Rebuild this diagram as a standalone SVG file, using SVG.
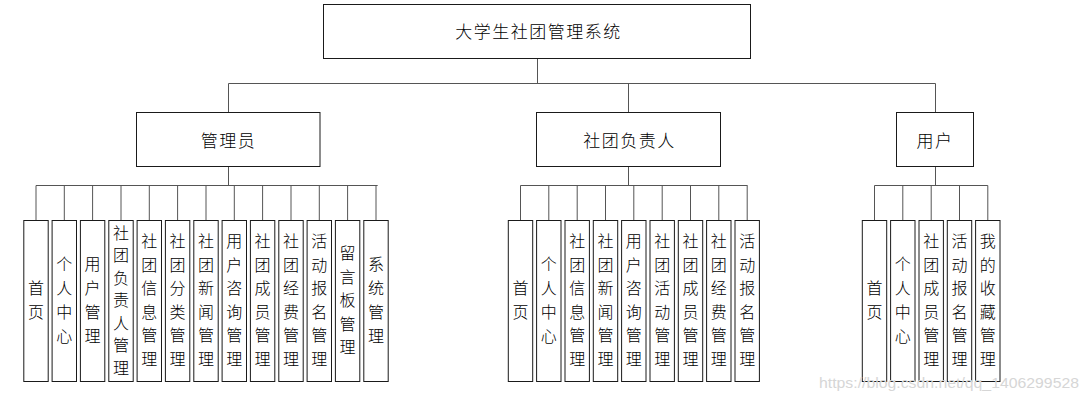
<svg xmlns="http://www.w3.org/2000/svg" width="1089" height="401" viewBox="0 0 1089 401">
<style>
.box{fill:#fff;stroke:#1a1a1a;stroke-width:1}
.ln{fill:none;stroke:#555;stroke-width:1}
.t{font-family:"Noto Sans CJK SC","Noto Sans",sans-serif;font-weight:300;fill:#000}
.h{font-size:17px;letter-spacing:1.5px;text-anchor:middle;dominant-baseline:central}
.v{font-size:16px;text-anchor:middle;dominant-baseline:central}
.wm{font-family:"Liberation Sans",Arial,sans-serif;font-size:15px;fill:#d6d6d6}
</style>
<rect width="1089" height="401" fill="#fff"/>
<g id="connectors">
<path class="ln" d="M537.5 58.5V83.5M228.5 83.5H935.5M228.5 83.5V112.5M628.5 83.5V112.5M935.5 83.5V112.5"/>
<path class="ln" d="M228.5 166.5V185.5M36 185.5H377.7M36 185.5V220.5M64.3 185.5V220.5M92.6 185.5V220.5M121 185.5V220.5M149.3 185.5V220.5M177.6 185.5V220.5M206 185.5V220.5M234.3 185.5V220.5M262.6 185.5V220.5M291 185.5V220.5M319.3 185.5V220.5M347.6 185.5V220.5M376 185.5V220.5"/>
<path class="ln" d="M628.5 166.5V185.5M520.5 185.5H747.5M520.5 185.5V220.5M548.8 185.5V220.5M577.2 185.5V220.5M605.5 185.5V220.5M633.8 185.5V220.5M662.2 185.5V220.5M690.5 185.5V220.5M718.8 185.5V220.5M747.2 185.5V220.5"/>
<path class="ln" d="M935.5 166.5V185.5M874.5 185.5H987.8M874.5 185.5V220.5M902.8 185.5V220.5M931.2 185.5V220.5M959.5 185.5V220.5M987.8 185.5V220.5"/>
</g>
<g id="root"><rect class="box" x="323.5" y="4.5" width="427" height="54"/><text class="t h" x="538.5" y="30">大学生社团管理系统</text></g>
<g id="admin"><rect class="box" x="136.5" y="112.5" width="183.5" height="54"/><text class="t h" x="228.5" y="139.5">管理员</text></g>
<g id="leader"><rect class="box" x="536.5" y="112.5" width="184" height="54"/><text class="t h" x="629.5" y="139.5">社团负责人</text></g>
<g id="user"><rect class="box" x="896.5" y="112.5" width="77" height="54"/><text class="t h" x="935" y="139.5">用户</text></g>

<g id="a1"><rect class="box" x="23.8" y="220.5" width="24.4" height="161"/><text class="t v"><tspan x="36" y="287">首</tspan><tspan x="36" y="311">页</tspan></text></g>
<g id="a2"><rect class="box" x="52.1" y="220.5" width="24.4" height="161"/><text class="t v"><tspan x="64.3" y="263">个</tspan><tspan x="64.3" y="287">人</tspan><tspan x="64.3" y="311">中</tspan><tspan x="64.3" y="335">心</tspan></text></g>
<g id="a3"><rect class="box" x="80.4" y="220.5" width="24.4" height="161"/><text class="t v"><tspan x="92.6" y="263">用</tspan><tspan x="92.6" y="287">户</tspan><tspan x="92.6" y="311">管</tspan><tspan x="92.6" y="335">理</tspan></text></g>
<g id="a4"><rect class="box" x="108.8" y="220.5" width="24.4" height="161"/><text class="t v"><tspan x="121" y="231.5">社</tspan><tspan x="121" y="254">团</tspan><tspan x="121" y="276.5">负</tspan><tspan x="121" y="299">责</tspan><tspan x="121" y="321.5">人</tspan><tspan x="121" y="344">管</tspan><tspan x="121" y="366.5">理</tspan></text></g>
<g id="a5"><rect class="box" x="137.1" y="220.5" width="24.4" height="161"/><text class="t v"><tspan x="149.3" y="240.25">社</tspan><tspan x="149.3" y="263.75">团</tspan><tspan x="149.3" y="287.25">信</tspan><tspan x="149.3" y="310.75">息</tspan><tspan x="149.3" y="334.25">管</tspan><tspan x="149.3" y="357.75">理</tspan></text></g>
<g id="a6"><rect class="box" x="165.4" y="220.5" width="24.4" height="161"/><text class="t v"><tspan x="177.6" y="240.25">社</tspan><tspan x="177.6" y="263.75">团</tspan><tspan x="177.6" y="287.25">分</tspan><tspan x="177.6" y="310.75">类</tspan><tspan x="177.6" y="334.25">管</tspan><tspan x="177.6" y="357.75">理</tspan></text></g>
<g id="a7"><rect class="box" x="193.8" y="220.5" width="24.4" height="161"/><text class="t v"><tspan x="206" y="240.25">社</tspan><tspan x="206" y="263.75">团</tspan><tspan x="206" y="287.25">新</tspan><tspan x="206" y="310.75">闻</tspan><tspan x="206" y="334.25">管</tspan><tspan x="206" y="357.75">理</tspan></text></g>
<g id="a8"><rect class="box" x="222.1" y="220.5" width="24.4" height="161"/><text class="t v"><tspan x="234.3" y="240.25">用</tspan><tspan x="234.3" y="263.75">户</tspan><tspan x="234.3" y="287.25">咨</tspan><tspan x="234.3" y="310.75">询</tspan><tspan x="234.3" y="334.25">管</tspan><tspan x="234.3" y="357.75">理</tspan></text></g>
<g id="a9"><rect class="box" x="250.4" y="220.5" width="24.4" height="161"/><text class="t v"><tspan x="262.6" y="240.25">社</tspan><tspan x="262.6" y="263.75">团</tspan><tspan x="262.6" y="287.25">成</tspan><tspan x="262.6" y="310.75">员</tspan><tspan x="262.6" y="334.25">管</tspan><tspan x="262.6" y="357.75">理</tspan></text></g>
<g id="a10"><rect class="box" x="278.8" y="220.5" width="24.4" height="161"/><text class="t v"><tspan x="291" y="240.25">社</tspan><tspan x="291" y="263.75">团</tspan><tspan x="291" y="287.25">经</tspan><tspan x="291" y="310.75">费</tspan><tspan x="291" y="334.25">管</tspan><tspan x="291" y="357.75">理</tspan></text></g>
<g id="a11"><rect class="box" x="307.1" y="220.5" width="24.4" height="161"/><text class="t v"><tspan x="319.3" y="240.25">活</tspan><tspan x="319.3" y="263.75">动</tspan><tspan x="319.3" y="287.25">报</tspan><tspan x="319.3" y="310.75">名</tspan><tspan x="319.3" y="334.25">管</tspan><tspan x="319.3" y="357.75">理</tspan></text></g>
<g id="a12"><rect class="box" x="335.4" y="220.5" width="24.4" height="161"/><text class="t v"><tspan x="347.6" y="252">留</tspan><tspan x="347.6" y="275.5">言</tspan><tspan x="347.6" y="299">板</tspan><tspan x="347.6" y="322.5">管</tspan><tspan x="347.6" y="346">理</tspan></text></g>
<g id="a13"><rect class="box" x="363.8" y="220.5" width="24.4" height="161"/><text class="t v"><tspan x="376" y="263">系</tspan><tspan x="376" y="287">统</tspan><tspan x="376" y="311">管</tspan><tspan x="376" y="335">理</tspan></text></g>

<g id="b1"><rect class="box" x="508.3" y="220.5" width="24.4" height="161"/><text class="t v"><tspan x="520.5" y="287">首</tspan><tspan x="520.5" y="311">页</tspan></text></g>
<g id="b2"><rect class="box" x="536.6" y="220.5" width="24.4" height="161"/><text class="t v"><tspan x="548.8" y="263">个</tspan><tspan x="548.8" y="287">人</tspan><tspan x="548.8" y="311">中</tspan><tspan x="548.8" y="335">心</tspan></text></g>
<g id="b3"><rect class="box" x="565" y="220.5" width="24.4" height="161"/><text class="t v"><tspan x="577.2" y="240.25">社</tspan><tspan x="577.2" y="263.75">团</tspan><tspan x="577.2" y="287.25">信</tspan><tspan x="577.2" y="310.75">息</tspan><tspan x="577.2" y="334.25">管</tspan><tspan x="577.2" y="357.75">理</tspan></text></g>
<g id="b4"><rect class="box" x="593.3" y="220.5" width="24.4" height="161"/><text class="t v"><tspan x="605.5" y="240.25">社</tspan><tspan x="605.5" y="263.75">团</tspan><tspan x="605.5" y="287.25">新</tspan><tspan x="605.5" y="310.75">闻</tspan><tspan x="605.5" y="334.25">管</tspan><tspan x="605.5" y="357.75">理</tspan></text></g>
<g id="b5"><rect class="box" x="621.6" y="220.5" width="24.4" height="161"/><text class="t v"><tspan x="633.8" y="240.25">用</tspan><tspan x="633.8" y="263.75">户</tspan><tspan x="633.8" y="287.25">咨</tspan><tspan x="633.8" y="310.75">询</tspan><tspan x="633.8" y="334.25">管</tspan><tspan x="633.8" y="357.75">理</tspan></text></g>
<g id="b6"><rect class="box" x="650" y="220.5" width="24.4" height="161"/><text class="t v"><tspan x="662.2" y="240.25">社</tspan><tspan x="662.2" y="263.75">团</tspan><tspan x="662.2" y="287.25">活</tspan><tspan x="662.2" y="310.75">动</tspan><tspan x="662.2" y="334.25">管</tspan><tspan x="662.2" y="357.75">理</tspan></text></g>
<g id="b7"><rect class="box" x="678.3" y="220.5" width="24.4" height="161"/><text class="t v"><tspan x="690.5" y="240.25">社</tspan><tspan x="690.5" y="263.75">团</tspan><tspan x="690.5" y="287.25">成</tspan><tspan x="690.5" y="310.75">员</tspan><tspan x="690.5" y="334.25">管</tspan><tspan x="690.5" y="357.75">理</tspan></text></g>
<g id="b8"><rect class="box" x="706.6" y="220.5" width="24.4" height="161"/><text class="t v"><tspan x="718.8" y="240.25">社</tspan><tspan x="718.8" y="263.75">团</tspan><tspan x="718.8" y="287.25">经</tspan><tspan x="718.8" y="310.75">费</tspan><tspan x="718.8" y="334.25">管</tspan><tspan x="718.8" y="357.75">理</tspan></text></g>
<g id="b9"><rect class="box" x="735" y="220.5" width="24.4" height="161"/><text class="t v"><tspan x="747.2" y="240.25">活</tspan><tspan x="747.2" y="263.75">动</tspan><tspan x="747.2" y="287.25">报</tspan><tspan x="747.2" y="310.75">名</tspan><tspan x="747.2" y="334.25">管</tspan><tspan x="747.2" y="357.75">理</tspan></text></g>

<g id="c1"><rect class="box" x="862.3" y="220.5" width="24.4" height="161"/><text class="t v"><tspan x="874.5" y="287">首</tspan><tspan x="874.5" y="311">页</tspan></text></g>
<g id="c2"><rect class="box" x="890.6" y="220.5" width="24.4" height="161"/><text class="t v"><tspan x="902.8" y="263">个</tspan><tspan x="902.8" y="287">人</tspan><tspan x="902.8" y="311">中</tspan><tspan x="902.8" y="335">心</tspan></text></g>
<g id="c3"><rect class="box" x="919" y="220.5" width="24.4" height="161"/><text class="t v"><tspan x="931.2" y="240.25">社</tspan><tspan x="931.2" y="263.75">团</tspan><tspan x="931.2" y="287.25">成</tspan><tspan x="931.2" y="310.75">员</tspan><tspan x="931.2" y="334.25">管</tspan><tspan x="931.2" y="357.75">理</tspan></text></g>
<g id="c4"><rect class="box" x="947.3" y="220.5" width="24.4" height="161"/><text class="t v"><tspan x="959.5" y="240.25">活</tspan><tspan x="959.5" y="263.75">动</tspan><tspan x="959.5" y="287.25">报</tspan><tspan x="959.5" y="310.75">名</tspan><tspan x="959.5" y="334.25">管</tspan><tspan x="959.5" y="357.75">理</tspan></text></g>
<g id="c5"><rect class="box" x="975.6" y="220.5" width="24.4" height="161"/><text class="t v"><tspan x="987.8" y="240.25">我</tspan><tspan x="987.8" y="263.75">的</tspan><tspan x="987.8" y="287.25">收</tspan><tspan x="987.8" y="310.75">藏</tspan><tspan x="987.8" y="334.25">管</tspan><tspan x="987.8" y="357.75">理</tspan></text></g>

<text class="wm" x="819" y="388" textLength="260" lengthAdjust="spacingAndGlyphs">https://blog.csdn.net/qq_1406299528</text>
</svg>
